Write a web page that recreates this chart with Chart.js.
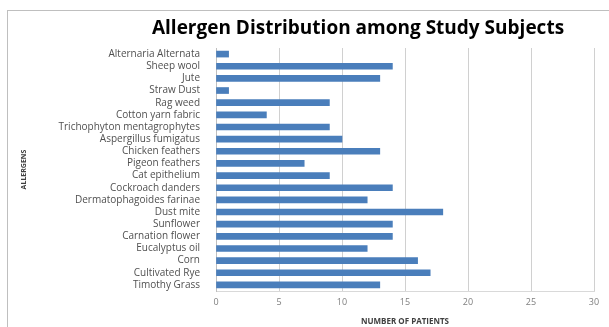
<!DOCTYPE html>
<html>
<head>
<meta charset="utf-8">
<script src="https://cdn.jsdelivr.net/npm/chart.js@4"></script>
<style>
  html, body { margin: 0; padding: 0; background: #fff; }
</style>
</head>
<body>
<canvas id="allergenChart" width="609" height="327"></canvas>
<script>
// allergens, top to bottom as in the picture
const allergens = [
    'Alternaria Alternata', 'Sheep wool', 'Jute', 'Straw Dust', 'Rag weed',
    'Cotton yarn fabric', 'Trichophyton mentagrophytes', 'Aspergillus fumigatus',
    'Chicken feathers', 'Pigeon feathers', 'Cat epithelium', 'Cockroach danders',
    'Dermatophagoides farinae', 'Dust mite', 'Sunflower', 'Carnation flower',
    'Eucalyptus oil', 'Corn', 'Cultivated Rye', 'Timothy Grass'
];
const patients = [1, 14, 13, 1, 9, 4, 9, 10, 13, 7, 9, 14, 12, 18, 14, 14, 12, 16, 17, 13];
const xTicks = [0, 5, 10, 15, 20, 25, 30];

const chartTitle = 'Allergen Distribution among Study Subjects';

// рамка и заголовок
const framePlugin = {
    id: 'frame',
    beforeDraw(chart) {
        const c = chart.ctx;
        c.save();
        c.strokeStyle = '#bfbfbf';
        c.lineWidth = 1;
        c.strokeRect(7.5, 10.5, 620, 340);
        c.fillStyle = '#000';
        c.font = 'bold 19px "Open Sans"';
        c.textAlign = 'center';
        c.textBaseline = 'middle';
        c.fillText(chartTitle, 358, 29);
        c.restore();
    }
};

const ctx = document.getElementById('allergenChart').getContext('2d');
const allergenChart = new Chart(ctx, {
    type: 'bar',
    data: {
        labels: allergens,
        datasets: [{
            label: 'Number of patients',
            data: patients,
            backgroundColor: '#4a7ebb',
            borderWidth: 0,
            barThickness: 6,
        }]
    },
    options: {
        indexAxis: 'y',
        responsive: false,
        animation: false,
        layout: {
            padding: { left: 20, top: 48, right: 15, bottom: 0 }
        },
        plugins: {
            legend: { display: false },
            tooltip: { enabled: false }
        },
        scales: {
            x: {
                min: 0,
                max: 30,
                afterBuildTicks(scale) {
                    scale.ticks = xTicks.map(v => ({ value: v }));
                },
                afterFit(scale) { scale.height = 36; },
                ticks: {
                    color: '#7f7f7f',
                    font: { size: 9, family: '"Open Sans"' },
                    padding: 6
                },
                grid: {
                    color: '#d0d0d0',
                    drawTicks: false
                },
                border: { color: '#d9d9d9' },
                title: {
                    display: true,
                    text: 'NUMBER OF PATIENTS',
                    color: '#404040',
                    font: { size: 8, weight: 'bold', family: '"Open Sans"' },
                    padding: { top: 4, bottom: 0 }
                }
            },
            y: {
                afterFit(scale) { scale.width = 196; },
                ticks: {
                    color: '#505050',
                    font: { size: 10, family: '"Open Sans"' },
                    autoSkip: false,
                    padding: 8
                },
                grid: { display: false },
                border: { color: '#bfbfbf' },
                title: {
                    display: true,
                    text: 'ALLERGENS',
                    color: '#404040',
                    font: { size: 7, weight: 'bold', family: '"Open Sans"' },
                    padding: 0
                }
            }
        }
    },
    plugins: [framePlugin]
});
</script>
</body>
</html>
